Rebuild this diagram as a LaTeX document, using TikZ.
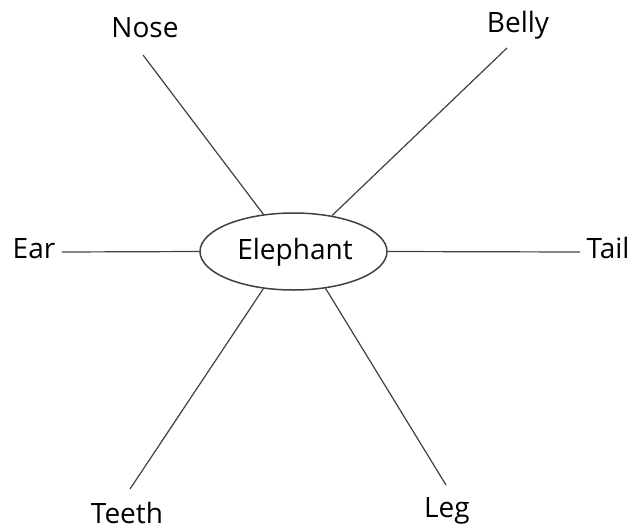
\documentclass[tikz,border=0pt]{standalone}
\usepackage{fontspec}
\setmainfont{Open Sans}
\usetikzlibrary{shapes.geometric}
\begin{document}
\begin{tikzpicture}[x=1pt,y=-1pt,
  lbl/.style={anchor=base,inner sep=0pt,font=\fontsize{28}{34}\selectfont,text=black},
  conn/.style={draw=black!75,line width=1.2pt},
  hub/.style={ellipse,draw=black!75,line width=1.5pt,minimum width=187pt,minimum height=77pt,inner sep=0pt}]
\useasboundingbox (0,0) rectangle (638,531);
\node[hub] (e) at (293.5,251.5) {};
\node[lbl] (el) at (295,259) {Elephant};
\node[lbl] (nose) at (145,37) {Nose};
\node[lbl] (belly) at (518,32) {Belly};
\node[lbl] (ear) at (34,258) {Ear};
\node[lbl] (tail) at (608,258) {Tail};
\node[lbl] (teeth) at (127,523) {Teeth};
\node[lbl] (leg) at (447,517) {Leg};
\coordinate (cn) at (143,55);
\coordinate (cb) at (507,48);
\coordinate (ce) at (62,252);
\coordinate (ct) at (580,252);
\coordinate (cth) at (130,489);
\coordinate (cl) at (446,485);
\draw[conn] (e.129) -- (cn);
\draw[conn] (e.43) -- (cb);
\draw[conn] (e.180) -- (ce);
\draw[conn] (e.0) -- (ct);
\draw[conn] (e.231) -- (cth);
\draw[conn] (e.311) -- (cl);
\end{tikzpicture}
\end{document}
